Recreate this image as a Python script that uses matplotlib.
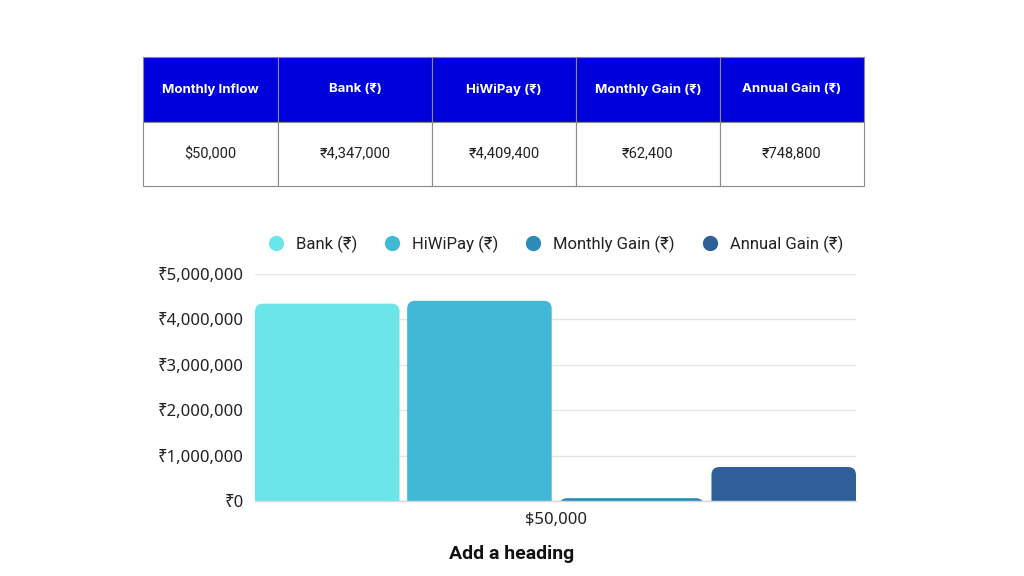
import matplotlib.pyplot as plt
from matplotlib.patches import FancyBboxPatch
from matplotlib.lines import Line2D

# table content
table_headers = ["Monthly Inflow", "Bank (₹)", "HiWiPay (₹)", "Monthly Gain (₹)", "Annual Gain (₹)"]
table_row = ["$50,000", "₹4,347,000", "₹4,409,400", "₹62,400", "₹748,800"]

# chart content
category = "$50,000"
series_names = ["Bank (₹)", "HiWiPay (₹)", "Monthly Gain (₹)", "Annual Gain (₹)"]
series_values = [4347000, 4409400, 62400, 748800]
y_ticks = [0, 1000000, 2000000, 3000000, 4000000, 5000000]
y_tick_labels = ["₹0", "₹1,000,000", "₹2,000,000", "₹3,000,000", "₹4,000,000", "₹5,000,000"]
heading = "Add a heading"

colors = ["#6CE5E8", "#41B8D5", "#2D8BBA", "#2F5F98"]
header_blue = "#0000DD"

ROBOTO = ["Roboto", "Noto Sans", "DejaVu Sans"]
NOTO = ["Noto Sans", "DejaVu Sans"]
INTER = ["Inter", "Roboto", "DejaVu Sans"]
plt.rcParams["font.family"] = ROBOTO

W, H = 1024, 576
fig = plt.figure(figsize=(W / 100, H / 100), dpi=100)
fig.patch.set_facecolor("white")


def fbox(x0, y0, x1, y1):
    # pixel box (top-left origin) -> figure fraction rect
    return [x0 / W, 1 - y1 / H, (x1 - x0) / W, (y1 - y0) / H]


# ---- table ----
tax = fig.add_axes(fbox(143, 57, 864, 186))
tax.axis("off")
col_px = [135, 154, 144, 144, 144]
col_w = [c / sum(col_px) for c in col_px]
tbl = tax.table(cellText=[table_row], colLabels=table_headers, colWidths=col_w,
                cellLoc="center", bbox=[0, 0, 1, 1])
tbl.auto_set_font_size(False)
for (r, c), cell in tbl.get_celld().items():
    cell.set_edgecolor("#8A8A8A")
    cell.set_linewidth(0.8)
    txt = cell.get_text()
    if r == 0:
        cell.set_facecolor(header_blue)
        txt.set_color("white")
        txt.set_family(INTER)
        txt.set_fontweight("bold")
        txt.set_fontsize(9.5)
    else:
        cell.set_facecolor("white")
        txt.set_color("#222222")
        txt.set_fontsize(10.5)

# ---- bar chart ----
ax = fig.add_axes(fbox(255, 274, 856, 501))
n = len(series_values)
bar_w = 0.95
ax.set_xlim(-bar_w / 2, n - 1 + bar_w / 2)
ax.set_ylim(0, 5000000)
fig.canvas.draw()

# corner radius in pixels converted to data units
bbox = ax.get_window_extent()
rad_px = 8
rx = rad_px * (ax.get_xlim()[1] - ax.get_xlim()[0]) / bbox.width
ry = rad_px * (ax.get_ylim()[1] - ax.get_ylim()[0]) / bbox.height

for i, (v, col) in enumerate(zip(series_values, colors)):
    x0 = i - bar_w / 2
    y0 = -3 * ry
    p = FancyBboxPatch((x0, y0), bar_w, v - y0,
                       boxstyle=f"round,pad=0,rounding_size={rx}",
                       mutation_aspect=ry / rx,
                       facecolor=col, edgecolor="none", zorder=3)
    ax.add_patch(p)

ax.set_yticks(y_ticks)
ax.set_yticklabels(y_tick_labels)
ax.set_xticks([(n - 1) / 2])
ax.set_xticklabels([category])
ax.tick_params(axis="both", length=0, labelsize=12, colors="#222222")
ax.tick_params(axis="y", pad=8)
ax.tick_params(axis="x", pad=8)
for lbl in ax.get_xticklabels() + ax.get_yticklabels():
    lbl.set_family(NOTO)
ax.grid(axis="y", color="#E6E6E6", linewidth=1, zorder=0)
for s in ["top", "right", "left"]:
    ax.spines[s].set_visible(False)
ax.spines["bottom"].set_color("#D8D8D8")
ax.spines["bottom"].set_linewidth(1)
ax.spines["bottom"].set_zorder(4)

handles = [Line2D([], [], marker="o", linestyle="none", markersize=11,
                  markerfacecolor=c, markeredgecolor="none") for c in colors]
fig.legend(handles, series_names, loc="center", bbox_to_anchor=(551 / W, 1 - 244 / H),
           ncol=4, frameon=False, fontsize=12, handletextpad=0.2, columnspacing=1.1,
           labelcolor="#222222")

fig.text(512 / W, 1 - 554 / H, heading, ha="center", va="center",
         fontsize=14, fontweight="bold", color="#111111")

fig.savefig("out.png", dpi=100, facecolor="white")
